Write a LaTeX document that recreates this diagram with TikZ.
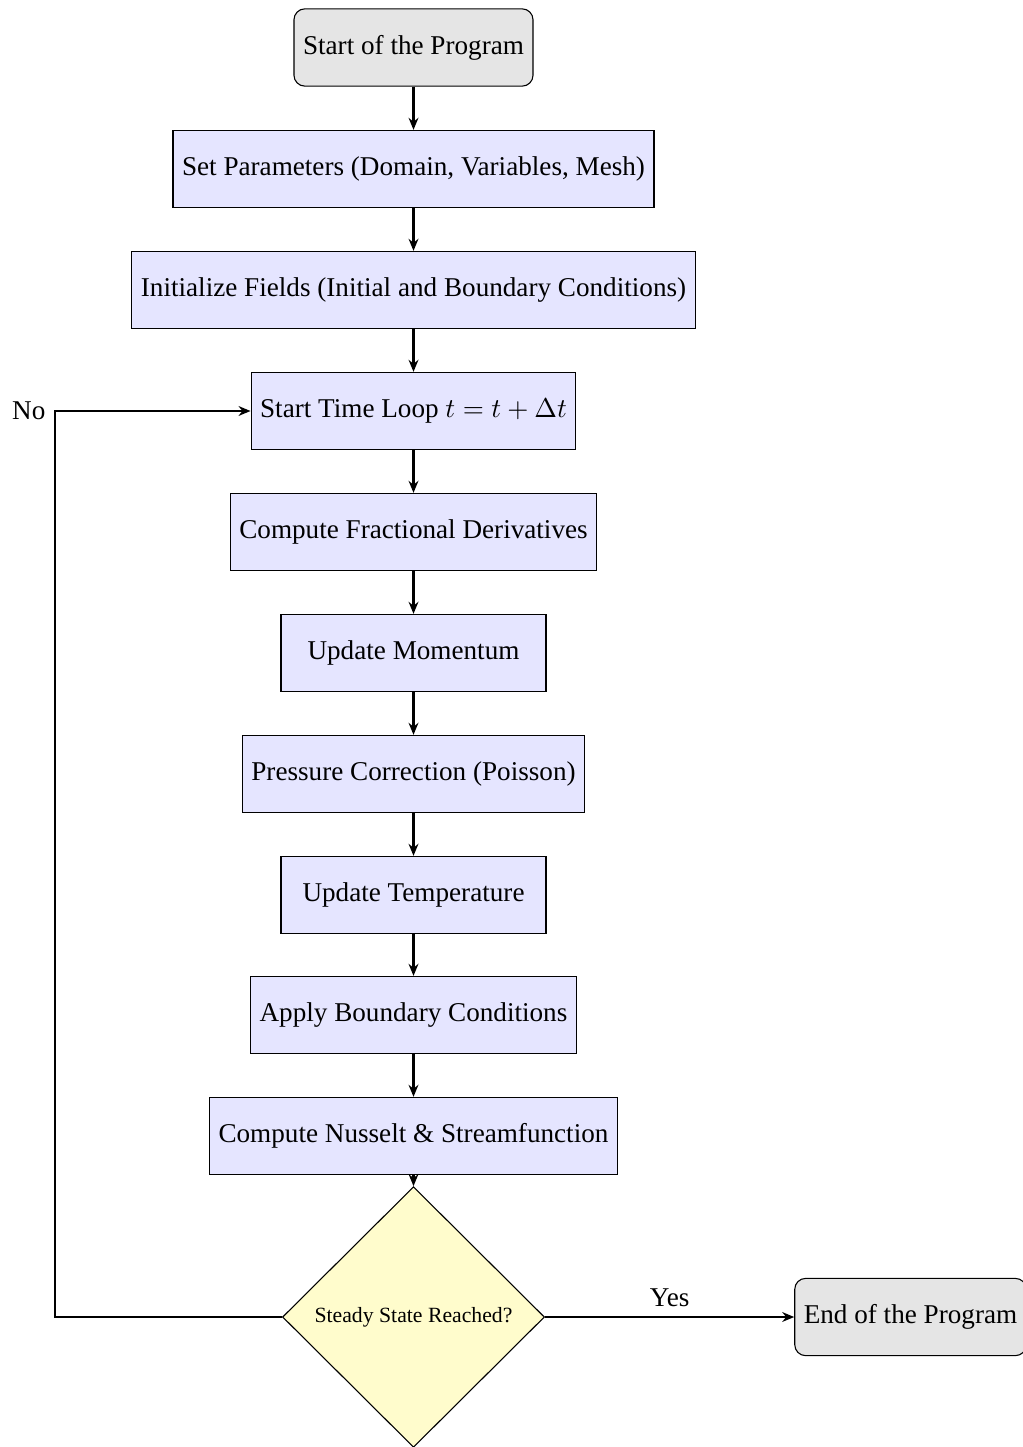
\documentclass[tikz,border=0pt]{standalone}
\usepackage{fontspec}
\setmainfont{Liberation Serif}
\usetikzlibrary{shapes.geometric,arrows.meta}
\begin{document}
\begin{tikzpicture}[x=0.3683pt,y=-0.3683pt,
  startstop/.style={draw, rounded corners=4pt, fill=gray!20, minimum height=1cm, font=\fontsize{10}{12}\selectfont},
  procbox/.style={draw, fill=blue!10, minimum height=1cm, minimum width=97.6pt, font=\fontsize{10}{12}\selectfont},
  decision/.style={draw, diamond, aspect=1, fill=yellow!20, minimum width=96.5pt, minimum height=96pt, inner sep=1pt, font=\footnotesize},
  arr/.style={thick, -{Stealth[length=4.4pt,width=3.6pt]}},
  lbl/.style={font=\fontsize{10}{12}\selectfont}]
\useasboundingbox (0,0) rectangle (1023,1447);
\node[startstop] (start) at (413.5,47.5) {Start of the Program};
\node[procbox] (params) at (413.5,169) {Set Parameters (Domain, Variables, Mesh)};
\node[procbox] (init) at (413.5,290) {Initialize Fields (Initial and Boundary Conditions)};
\node[procbox] (loop) at (413.5,411) {Start Time Loop $t = t + \Delta t$};
\node[procbox] (frac) at (413.5,532) {Compute Fractional Derivatives};
\node[procbox] (mom) at (413.5,653) {Update Momentum};
\node[procbox] (press) at (413.5,774) {Pressure Correction (Poisson)};
\node[procbox] (temp) at (413.5,895) {Update Temperature};
\node[procbox] (bc) at (413.5,1015) {Apply Boundary Conditions};
\node[procbox] (nus) at (413.5,1136) {Compute Nusselt \& Streamfunction};
\node[decision] (dec) at (413.5,1317) {Steady State Reached?};
\node[startstop] (stop) at (910.5,1317) {End of the Program};
\coordinate (cbot) at (55,1317);
\coordinate (ctop) at (55,411);
\draw[arr] (start) -- (params);
\draw[arr] (params) -- (init);
\draw[arr] (init) -- (loop);
\draw[arr] (loop) -- (frac);
\draw[arr] (frac) -- (mom);
\draw[arr] (mom) -- (press);
\draw[arr] (press) -- (temp);
\draw[arr] (temp) -- (bc);
\draw[arr] (bc) -- (nus);
\draw[arr] (nus) -- (dec);
\draw[arr] (dec) -- node[lbl, above] (yes) {Yes} (stop);
\draw[arr] (dec.west) -- (cbot) -- (ctop) -- (loop.west);
\node[lbl, anchor=east] (no) at (ctop) {No};
\end{tikzpicture}
\end{document}
